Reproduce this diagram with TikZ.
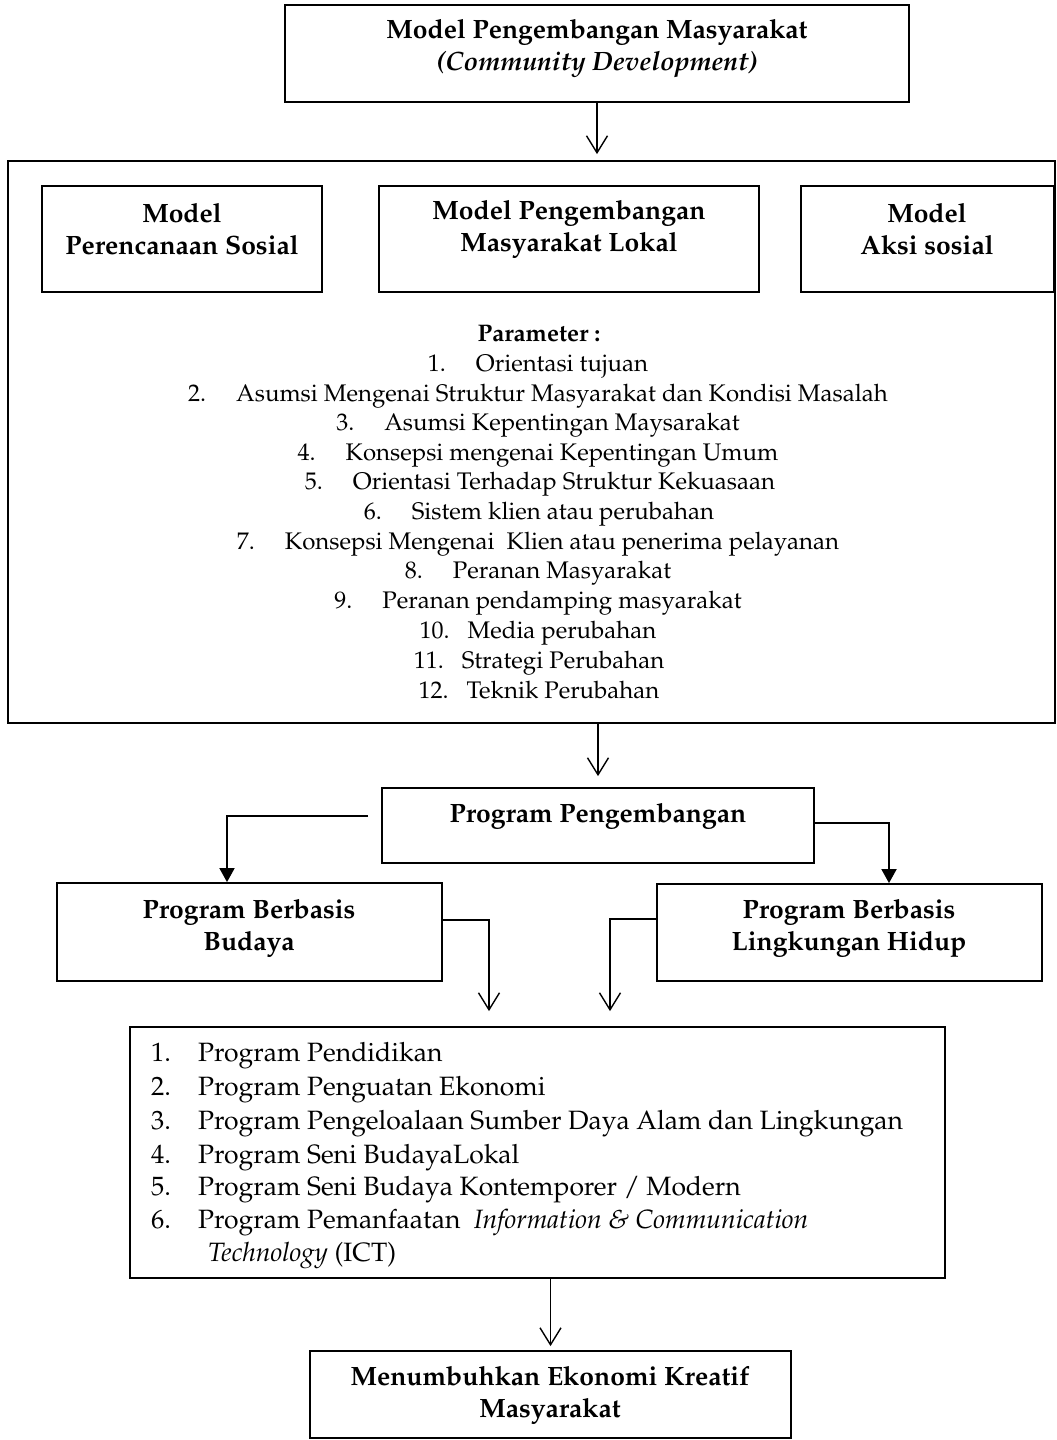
\documentclass[tikz,border=0pt]{standalone}
\usepackage[T1]{fontenc}
\usepackage{mathpazo}
\usetikzlibrary{arrows.meta,fit,calc}
\begin{document}
\begin{tikzpicture}[x=1pt,y=-1pt,
  box/.style={draw, line width=1.8pt, inner sep=0pt},
  hd/.style={font=\fontsize{26.5}{32}\selectfont\bfseries, align=center, inner sep=0pt},
  prm/.style={font=\fontsize{24}{29}\selectfont, inner sep=0pt, text height=17pt, text depth=5pt},
  itm/.style={font=\fontsize{26.5}{33}\selectfont, anchor=west, inner sep=0pt, text height=18pt, text depth=6pt},
  conn/.style={line width=1.8pt},
  oarrow/.style={conn, -{Straight Barb[length=17pt,width=21pt,line width=1.4pt]}},
  farrow/.style={conn, -{Triangle[length=14pt,width=15pt]}}
]
\useasboundingbox (0,0) rectangle (1057,1440);

% boxes
\node[box, fit={(285,5) (909,102)}] (top) {};
\node[box, fit={(8,161) (1055,723)}] (big) {};
\node[box, fit={(42,186) (322,292)}] (m1) {};
\node[box, fit={(379,186) (759,292)}] (m2) {};
\node[box, fit={(801,186) (1054,292)}] (m3) {};
\node[box, fit={(382,788) (814,863)}] (pp) {};
\node[box, fit={(57,883) (442,981)}] (bud) {};
\node[box, fit={(657,884) (1042,981)}] (ling) {};
\node[box, fit={(130,1027) (945,1278)}] (list) {};
\node[box, fit={(310,1351) (791,1438)}] (fin) {};

% heading texts
\node[hd] (ttop) at (597,49) {Model Pengembangan Masyarakat\\\textit{(Community Development)}};
\node[hd] (tm1) at (182,229) {Model\\Perencanaan Sosial};
\node[hd] (tm2) at (569,229) {Model Pengembangan\\Masyarakat Lokal};
\node[hd] (tm3) at (927,229) {Model\\Aksi sosial};
\node[hd] (tpp) at (598,816) {Program Pengembangan};
\node[hd] (tbud) at (249,928) {Program Berbasis\\Budaya};
\node[hd] (tling) at (849,928) {Program Berbasis\\Lingkungan Hidup};
\node[hd] (tfin) at (550,1395) {Menumbuhkan Ekonomi Kreatif\\Masyarakat};

% parameter list
\node[prm, font=\fontsize{24}{29}\selectfont\bfseries] (ph) at (539,335) {Parameter :};
\node[prm] (p1) at (538,365) {\makebox[48pt][l]{1.}Orientasi tujuan};
\node[prm] (p2) at (538,395) {\makebox[48pt][l]{2.}Asumsi Mengenai Struktur Masyarakat dan Kondisi Masalah};
\node[prm] (p3) at (538,424) {\makebox[48pt][l]{3.}Asumsi Kepentingan Maysarakat};
\node[prm] (p4) at (538,454) {\makebox[48pt][l]{4.}Konsepsi mengenai Kepentingan Umum};
\node[prm] (p5) at (540,483) {\makebox[48pt][l]{5.}Orientasi Terhadap Struktur Kekuasaan};
\node[prm] (p6) at (539,513) {\makebox[48pt][l]{6.}Sistem klien atau perubahan};
\node[prm] (p7) at (538,543) {\makebox[48pt][l]{7.}Konsepsi Mengenai\ \ Klien atau penerima pelayanan};
\node[prm] (p8) at (538,572) {\makebox[48pt][l]{8.}Peranan Masyarakat};
\node[prm] (p9) at (538,602) {\makebox[48pt][l]{9.}Peranan pendamping masyarakat};
\node[prm] (p10) at (538,632) {\makebox[48pt][l]{10.}Media perubahan};
\node[prm] (p11) at (539,662) {\makebox[48pt][l]{11.}Strategi Perubahan};
\node[prm] (p12) at (539,692) {\makebox[48pt][l]{12.}Teknik Perubahan};

% program list
\node[itm] (i1) at (151,1055) {\makebox[47pt][l]{1.}Program Pendidikan};
\node[itm] (i2) at (151,1089) {\makebox[47pt][l]{2.}Program Penguatan Ekonomi};
\node[itm] (i3) at (151,1123) {\makebox[47pt][l]{3.}Program Pengeloalaan Sumber Daya Alam dan Lingkungan};
\node[itm] (i4) at (151,1157) {\makebox[47pt][l]{4.}Program Seni BudayaLokal};
\node[itm] (i5) at (151,1189) {\makebox[47pt][l]{5.}Program Seni Budaya Kontemporer / Modern};
\node[itm] (i6) at (151,1222) {\makebox[47pt][l]{6.}Program Pemanfaatan\ \ \textit{Information \& Communication}};
\node[itm] (i6b) at (208,1255) {\textit{Technology} (ICT)};

% connectors
\draw[oarrow, shorten >=6pt] (top.south) -- (top.south |- big.north);
\draw[oarrow, shorten >=11pt] (pp.north |- big.south) -- (pp.north);
\coordinate (c1) at (368,816);
\draw[farrow] (c1) -| ([xshift=-22.5pt]bud.north);
\draw[farrow] ([yshift=2.5pt]pp.east) -| ([xshift=39.5pt]ling.north);
\draw[oarrow, shorten >=15pt] ([yshift=12pt]bud.east) -| ([xshift=-48.5pt]list.north);
\draw[oarrow, shorten >=15pt] ([yshift=13.5pt]ling.west) -| ([xshift=72.5pt]list.north);
\draw[oarrow, shorten >=4pt] (fin.north |- list.south) -- (fin.north);
\end{tikzpicture}
\end{document}
